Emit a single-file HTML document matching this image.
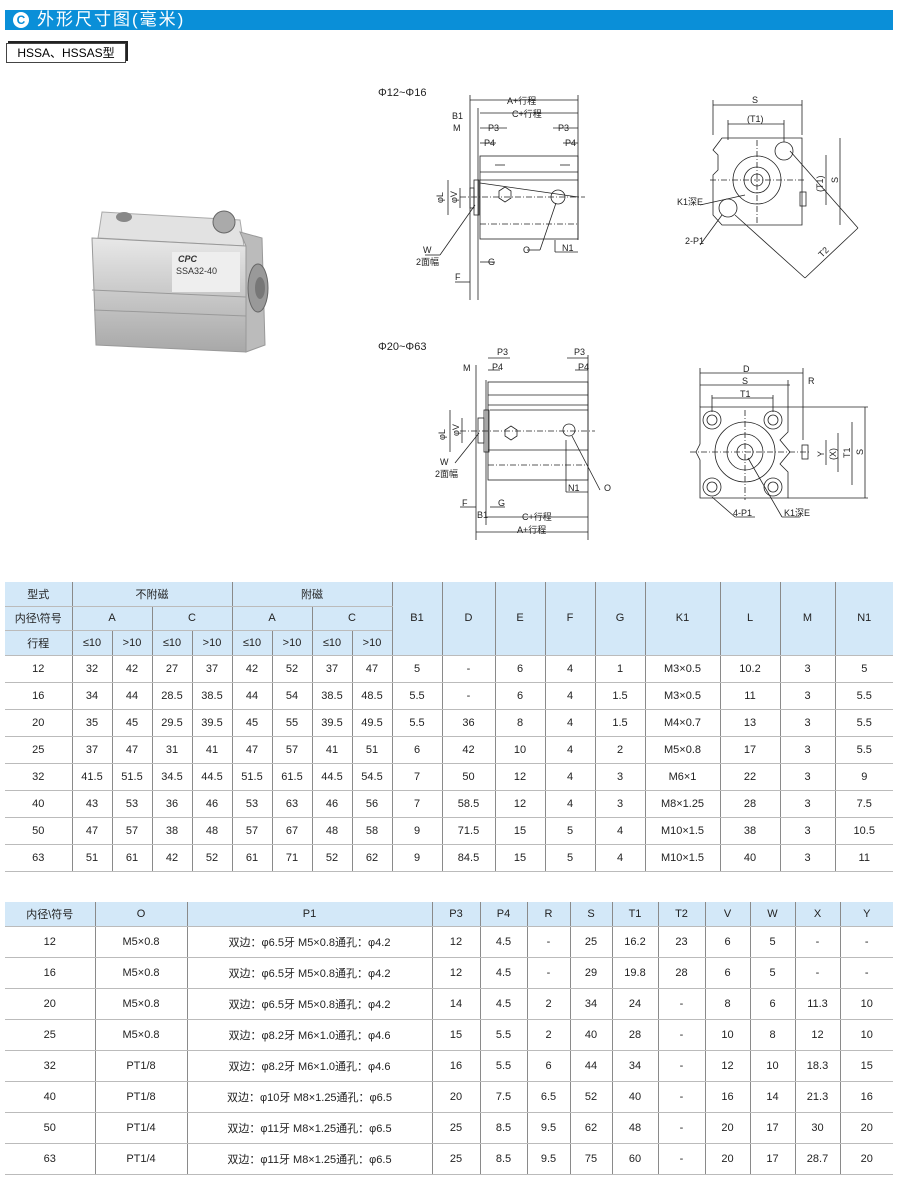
<!DOCTYPE html>
<html><head><meta charset="utf-8"><style>
body{margin:0;width:900px;height:1178px;background:#fff;position:relative;font-family:"Liberation Sans","Noto Sans CJK SC",sans-serif;overflow:hidden}
.bar{position:absolute;left:5px;top:10px;width:888px;height:20px;background:#0a8fd8;color:#fff;font-size:17px;line-height:20px;letter-spacing:2px}
.lbl{position:absolute;left:6px;top:43px;width:118px;height:18px;border:1px solid #444;box-shadow:2px -2px 0 #222;font-size:12px;line-height:18px;text-align:center;background:#fff}
table{position:absolute;border-collapse:collapse;table-layout:fixed;font-size:11px;color:#222;text-align:center}
td{padding:0;border-bottom:1px solid #bbb;border-left:1.5px solid #8a8a8a}
tr td:first-child{border-left:none}
.h td{background:#d3e8f8}
svg{position:absolute;left:0;top:0}
</style></head><body>
<div class="bar"><span style="display:inline-block;width:16px;height:16px;border-radius:50%;background:#fff;color:#0a8fd8;font-size:12px;line-height:16px;text-align:center;margin:2px 8px 0 8px;vertical-align:top;font-weight:bold;letter-spacing:0">C</span>外形尺寸图(毫米)</div>
<div class="lbl">HSSA、HSSAS型</div>

<svg width="900" height="580" viewBox="0 0 900 580" font-family="Liberation Sans, Noto Sans CJK SC, sans-serif" font-size="9" fill="#222">
<defs><linearGradient id="g1" x1="0" y1="0" x2="0" y2="1"><stop offset="0" stop-color="#e8e8e8"/><stop offset="0.5" stop-color="#c8c8c8"/><stop offset="1" stop-color="#a8a8a8"/></linearGradient></defs>
<!-- photo -->
<g>
<polygon points="102,212 240,220 244,246 98,238" fill="#e2e2e2" stroke="#aaa"/>
<polygon points="92,238 246,246 246,352 96,345" fill="url(#g1)" stroke="#999"/>
<line x1="92" y1="290" x2="246" y2="297" stroke="#999"/>
<line x1="94" y1="310" x2="246" y2="316" stroke="#999"/>
<polygon points="240,232 262,238 265,345 246,352 246,246" fill="#bbb" stroke="#999"/>
<ellipse cx="124" cy="217" rx="8" ry="5" fill="#888"/>
<circle cx="224" cy="222" r="11" fill="#aaa" stroke="#666"/>
<ellipse cx="258" cy="288" rx="10" ry="24" fill="#999" stroke="#666"/>
<ellipse cx="260" cy="288" rx="5" ry="11" fill="#777"/>
<rect x="172" y="252" width="68" height="40" fill="#eee"/>
<text x="178" y="262" font-size="9" font-style="italic" font-weight="bold" fill="#333">CPC</text>
<text x="176" y="274" font-size="9" fill="#333">SSA32-40</text>
</g>
<g stroke="#222" fill="none" stroke-width="0.8">
<rect x="480" y="156" width="98" height="83"/>
<line x1="480" y1="172" x2="578" y2="172"/><line x1="480" y1="180" x2="578" y2="180"/>
<line x1="495" y1="165" x2="505" y2="165"/><line x1="560" y1="165" x2="570" y2="165"/>
<line x1="480" y1="183" x2="578" y2="197"/>
<rect x="474" y="180" width="5" height="35"/><rect x="470" y="188" width="4" height="20"/>
<polygon points="499,191 505,187 511,191 511,198 505,202 499,198"/>
<circle cx="558" cy="197" r="7"/>
<line x1="460" y1="197" x2="585" y2="197" stroke-dasharray="6,2,1,2"/>
<line x1="480" y1="224" x2="578" y2="224" stroke-dasharray="6,2,1,2"/>
<line x1="470" y1="100" x2="578" y2="100"/><line x1="480" y1="113" x2="578" y2="113"/>
<line x1="480" y1="128" x2="507" y2="128"/><line x1="553" y1="128" x2="578" y2="128"/>
<line x1="480" y1="143" x2="496" y2="143"/><line x1="563" y1="143" x2="578" y2="143"/>
<line x1="470" y1="95" x2="470" y2="300"/><line x1="578" y1="95" x2="578" y2="240"/>
<line x1="478" y1="108" x2="478" y2="300"/>
<line x1="555" y1="240" x2="555" y2="252"/><line x1="555" y1="252" x2="578" y2="252"/>
<line x1="448" y1="180" x2="448" y2="215"/><line x1="460" y1="188" x2="460" y2="208"/>
<line x1="475" y1="205" x2="440" y2="255"/><line x1="425" y1="255" x2="440" y2="255"/>
<line x1="556" y1="203" x2="540" y2="250"/><line x1="527" y1="250" x2="540" y2="250"/>
<line x1="455" y1="282" x2="470" y2="282"/><line x1="480" y1="262" x2="495" y2="262"/>
<path d="M722,138 L802,138 L802,225 L722,225 L713,215 L713,175 L718,170 L718,155 L713,150 Z"/>
<circle cx="757" cy="180" r="24"/><circle cx="757" cy="180" r="13"/><circle cx="757" cy="180" r="6"/>
<circle cx="784" cy="151" r="9"/><circle cx="728" cy="208" r="9"/>
<rect x="800" y="192" width="6" height="14"/>
<line x1="710" y1="180" x2="805" y2="180" stroke-dasharray="6,2,1,2"/>
<line x1="757" y1="140" x2="757" y2="225" stroke-dasharray="6,2,1,2"/>
<line x1="713" y1="105" x2="802" y2="105"/><line x1="728" y1="124" x2="784" y2="124"/>
<line x1="713" y1="100" x2="713" y2="135"/><line x1="802" y1="100" x2="802" y2="135"/>
<line x1="728" y1="120" x2="728" y2="140"/><line x1="784" y1="120" x2="784" y2="142"/>
<line x1="826" y1="155" x2="826" y2="205"/><line x1="840" y1="138" x2="840" y2="225"/>
<line x1="790" y1="151" x2="858" y2="228"/><line x1="735" y1="215" x2="805" y2="278"/>
<line x1="805" y1="278" x2="858" y2="228"/>
<line x1="700" y1="205" x2="745" y2="195"/><line x1="700" y1="245" x2="722" y2="215"/>
<rect x="488" y="382" width="100" height="98"/>
<line x1="488" y1="395" x2="588" y2="395"/><line x1="488" y1="405" x2="588" y2="405"/>
<line x1="490" y1="410" x2="588" y2="410"/>
<line x1="488" y1="450" x2="588" y2="450"/>
<rect x="484" y="410" width="5" height="42"/><rect x="478" y="418" width="6" height="25"/>
<polygon points="505,430 511,426 517,430 517,436 511,440 505,436"/>
<circle cx="569" cy="430" r="6"/>
<line x1="460" y1="431" x2="595" y2="431" stroke-dasharray="6,2,1,2"/>
<line x1="488" y1="465" x2="588" y2="465" stroke-dasharray="6,2,1,2"/>
<line x1="488" y1="358" x2="510" y2="358"/><line x1="567" y1="358" x2="588" y2="358"/>
<line x1="488" y1="370" x2="500" y2="370"/><line x1="575" y1="370" x2="588" y2="370"/>
<line x1="476" y1="365" x2="476" y2="540"/><line x1="486" y1="380" x2="486" y2="525"/>
<line x1="588" y1="355" x2="588" y2="540"/>
<line x1="476" y1="532" x2="588" y2="532"/><line x1="486" y1="517" x2="588" y2="517"/>
<line x1="566" y1="440" x2="566" y2="492"/><line x1="566" y1="492" x2="588" y2="492"/>
<line x1="450" y1="410" x2="450" y2="452"/><line x1="462" y1="418" x2="462" y2="443"/>
<line x1="479" y1="433" x2="455" y2="463"/><line x1="572" y1="436" x2="600" y2="490"/>
<line x1="460" y1="507" x2="476" y2="507"/><line x1="490" y1="507" x2="505" y2="507"/>
<path d="M700,407 L788,407 L788,432 L780,440 L790,452 L780,464 L788,472 L788,498 L700,498 L700,460 L696,452 L700,444 Z"/>
<circle cx="745" cy="452" r="30"/><circle cx="745" cy="452" r="18"/><circle cx="745" cy="452" r="8"/>
<circle cx="712" cy="420" r="9"/><circle cx="773" cy="420" r="9"/><circle cx="712" cy="487" r="9"/><circle cx="773" cy="487" r="9"/>
<circle cx="712" cy="420" r="5"/><circle cx="773" cy="420" r="5"/><circle cx="712" cy="487" r="5"/><circle cx="773" cy="487" r="5"/>
<rect x="802" y="445" width="6" height="14"/>
<line x1="690" y1="452" x2="810" y2="452" stroke-dasharray="6,2,1,2"/>
<line x1="745" y1="410" x2="745" y2="500" stroke-dasharray="6,2,1,2"/>
<line x1="700" y1="373" x2="803" y2="373"/><line x1="700" y1="385" x2="790" y2="385"/><line x1="712" y1="398" x2="773" y2="398"/>
<line x1="700" y1="368" x2="700" y2="407"/><line x1="803" y1="368" x2="803" y2="440"/><line x1="788" y1="380" x2="788" y2="407"/>
<line x1="712" y1="395" x2="712" y2="412"/><line x1="773" y1="395" x2="773" y2="412"/>
<line x1="865" y1="407" x2="865" y2="498"/><line x1="852" y1="422" x2="852" y2="485"/>
<line x1="838" y1="433" x2="838" y2="472"/><line x1="826" y1="440" x2="826" y2="465"/>
<line x1="788" y1="407" x2="868" y2="407"/><line x1="788" y1="498" x2="868" y2="498"/>
<line x1="712" y1="497" x2="735" y2="517"/><line x1="735" y1="517" x2="755" y2="517"/>
<line x1="748" y1="458" x2="782" y2="517"/><line x1="782" y1="517" x2="800" y2="517"/>
</g>
<text x="378" y="96" font-size="11">Φ12~Φ16</text>
<text x="507" y="104">A+行程</text><text x="512" y="117">C+行程</text>
<text x="452" y="119">B1</text><text x="453" y="131">M</text>
<text x="488" y="131">P3</text><text x="558" y="131">P3</text><text x="484" y="146">P4</text><text x="565" y="146">P4</text>
<text x="443" y="203" transform="rotate(-90 443 203)">φL</text><text x="457" y="203" transform="rotate(-90 457 203)">φV</text>
<text x="423" y="253">W</text><text x="416" y="265">2面幅</text>
<text x="523" y="253">O</text><text x="562" y="251">N1</text>
<text x="488" y="265">G</text><text x="455" y="280">F</text>
<text x="752" y="103">S</text><text x="747" y="122">(T1)</text>
<text x="823" y="192" transform="rotate(-90 823 192)">(T1)</text><text x="838" y="183" transform="rotate(-90 838 183)">S</text>
<text x="677" y="205">K1深E</text><text x="685" y="244">2-P1</text>
<text x="822" y="258" transform="rotate(-45 822 258)">T2</text>
<text x="378" y="350" font-size="11">Φ20~Φ63</text>
<text x="497" y="355">P3</text><text x="574" y="355">P3</text><text x="492" y="370">P4</text><text x="578" y="370">P4</text>
<text x="463" y="371">M</text>
<text x="445" y="440" transform="rotate(-90 445 440)">φL</text><text x="459" y="436" transform="rotate(-90 459 436)">φV</text>
<text x="440" y="465">W</text><text x="435" y="477">2面幅</text>
<text x="462" y="506">F</text><text x="498" y="506">G</text>
<text x="568" y="491">N1</text><text x="604" y="491">O</text>
<text x="477" y="518">B1</text><text x="522" y="520">C+行程</text><text x="517" y="533">A+行程</text>
<text x="743" y="372">D</text><text x="742" y="384">S</text><text x="740" y="397">T1</text><text x="808" y="384">R</text>
<text x="824" y="457" transform="rotate(-90 824 457)">Y</text><text x="836" y="460" transform="rotate(-90 836 460)">(X)</text>
<text x="850" y="458" transform="rotate(-90 850 458)">T1</text><text x="863" y="455" transform="rotate(-90 863 455)">S</text>
<text x="733" y="516">4-P1</text><text x="784" y="516">K1深E</text>
</svg>

<table style="left:5px;top:582px;width:888px">
<colgroup><col style="width:67px"><col style="width:40px"><col style="width:40px"><col style="width:40px"><col style="width:40px"><col style="width:40px"><col style="width:40px"><col style="width:40px"><col style="width:40px"><col style="width:50px"><col style="width:53px"><col style="width:50px"><col style="width:50px"><col style="width:50px"><col style="width:75px"><col style="width:60px"><col style="width:55px"><col style="width:58px"></colgroup>
<tr class="h" style="height:24px"><td>型式</td><td colspan="4">不附磁</td><td colspan="4">附磁</td><td rowspan="3">B1</td><td rowspan="3">D</td><td rowspan="3">E</td><td rowspan="3">F</td><td rowspan="3">G</td><td rowspan="3">K1</td><td rowspan="3">L</td><td rowspan="3">M</td><td rowspan="3">N1</td></tr>
<tr class="h" style="height:24px"><td>内径\符号</td><td colspan="2">A</td><td colspan="2">C</td><td colspan="2">A</td><td colspan="2">C</td></tr>
<tr class="h" style="height:25px"><td>行程</td><td>≤10</td><td>&gt;10</td><td>≤10</td><td>&gt;10</td><td>≤10</td><td>&gt;10</td><td>≤10</td><td>&gt;10</td></tr>
<tr style="height:27px"><td>12</td><td>32</td><td>42</td><td>27</td><td>37</td><td>42</td><td>52</td><td>37</td><td>47</td><td>5</td><td>-</td><td>6</td><td>4</td><td>1</td><td>M3×0.5</td><td>10.2</td><td>3</td><td>5</td></tr>
<tr style="height:27px"><td>16</td><td>34</td><td>44</td><td>28.5</td><td>38.5</td><td>44</td><td>54</td><td>38.5</td><td>48.5</td><td>5.5</td><td>-</td><td>6</td><td>4</td><td>1.5</td><td>M3×0.5</td><td>11</td><td>3</td><td>5.5</td></tr>
<tr style="height:27px"><td>20</td><td>35</td><td>45</td><td>29.5</td><td>39.5</td><td>45</td><td>55</td><td>39.5</td><td>49.5</td><td>5.5</td><td>36</td><td>8</td><td>4</td><td>1.5</td><td>M4×0.7</td><td>13</td><td>3</td><td>5.5</td></tr>
<tr style="height:27px"><td>25</td><td>37</td><td>47</td><td>31</td><td>41</td><td>47</td><td>57</td><td>41</td><td>51</td><td>6</td><td>42</td><td>10</td><td>4</td><td>2</td><td>M5×0.8</td><td>17</td><td>3</td><td>5.5</td></tr>
<tr style="height:27px"><td>32</td><td>41.5</td><td>51.5</td><td>34.5</td><td>44.5</td><td>51.5</td><td>61.5</td><td>44.5</td><td>54.5</td><td>7</td><td>50</td><td>12</td><td>4</td><td>3</td><td>M6×1</td><td>22</td><td>3</td><td>9</td></tr>
<tr style="height:27px"><td>40</td><td>43</td><td>53</td><td>36</td><td>46</td><td>53</td><td>63</td><td>46</td><td>56</td><td>7</td><td>58.5</td><td>12</td><td>4</td><td>3</td><td>M8×1.25</td><td>28</td><td>3</td><td>7.5</td></tr>
<tr style="height:27px"><td>50</td><td>47</td><td>57</td><td>38</td><td>48</td><td>57</td><td>67</td><td>48</td><td>58</td><td>9</td><td>71.5</td><td>15</td><td>5</td><td>4</td><td>M10×1.5</td><td>38</td><td>3</td><td>10.5</td></tr>
<tr style="height:27px"><td>63</td><td>51</td><td>61</td><td>42</td><td>52</td><td>61</td><td>71</td><td>52</td><td>62</td><td>9</td><td>84.5</td><td>15</td><td>5</td><td>4</td><td>M10×1.5</td><td>40</td><td>3</td><td>11</td></tr>
</table>

<table style="left:5px;top:902px;width:888px">
<colgroup><col style="width:90px"><col style="width:92px"><col style="width:245px"><col style="width:48px"><col style="width:47px"><col style="width:43px"><col style="width:42px"><col style="width:46px"><col style="width:47px"><col style="width:45px"><col style="width:45px"><col style="width:45px"><col style="width:53px"></colgroup>
<tr class="h" style="height:24px"><td>内径\符号</td><td>O</td><td>P1</td><td>P3</td><td>P4</td><td>R</td><td>S</td><td>T1</td><td>T2</td><td>V</td><td>W</td><td>X</td><td>Y</td></tr>
<tr style="height:31px"><td>12</td><td>M5×0.8</td><td>双边：φ6.5牙 M5×0.8通孔：φ4.2</td><td>12</td><td>4.5</td><td>-</td><td>25</td><td>16.2</td><td>23</td><td>6</td><td>5</td><td>-</td><td>-</td></tr>
<tr style="height:31px"><td>16</td><td>M5×0.8</td><td>双边：φ6.5牙 M5×0.8通孔：φ4.2</td><td>12</td><td>4.5</td><td>-</td><td>29</td><td>19.8</td><td>28</td><td>6</td><td>5</td><td>-</td><td>-</td></tr>
<tr style="height:31px"><td>20</td><td>M5×0.8</td><td>双边：φ6.5牙 M5×0.8通孔：φ4.2</td><td>14</td><td>4.5</td><td>2</td><td>34</td><td>24</td><td>-</td><td>8</td><td>6</td><td>11.3</td><td>10</td></tr>
<tr style="height:31px"><td>25</td><td>M5×0.8</td><td>双边：φ8.2牙 M6×1.0通孔：φ4.6</td><td>15</td><td>5.5</td><td>2</td><td>40</td><td>28</td><td>-</td><td>10</td><td>8</td><td>12</td><td>10</td></tr>
<tr style="height:31px"><td>32</td><td>PT1/8</td><td>双边：φ8.2牙 M6×1.0通孔：φ4.6</td><td>16</td><td>5.5</td><td>6</td><td>44</td><td>34</td><td>-</td><td>12</td><td>10</td><td>18.3</td><td>15</td></tr>
<tr style="height:31px"><td>40</td><td>PT1/8</td><td>双边：φ10牙 M8×1.25通孔：φ6.5</td><td>20</td><td>7.5</td><td>6.5</td><td>52</td><td>40</td><td>-</td><td>16</td><td>14</td><td>21.3</td><td>16</td></tr>
<tr style="height:31px"><td>50</td><td>PT1/4</td><td>双边：φ11牙 M8×1.25通孔：φ6.5</td><td>25</td><td>8.5</td><td>9.5</td><td>62</td><td>48</td><td>-</td><td>20</td><td>17</td><td>30</td><td>20</td></tr>
<tr style="height:31px"><td>63</td><td>PT1/4</td><td>双边：φ11牙 M8×1.25通孔：φ6.5</td><td>25</td><td>8.5</td><td>9.5</td><td>75</td><td>60</td><td>-</td><td>20</td><td>17</td><td>28.7</td><td>20</td></tr>
</table>
</body></html>
